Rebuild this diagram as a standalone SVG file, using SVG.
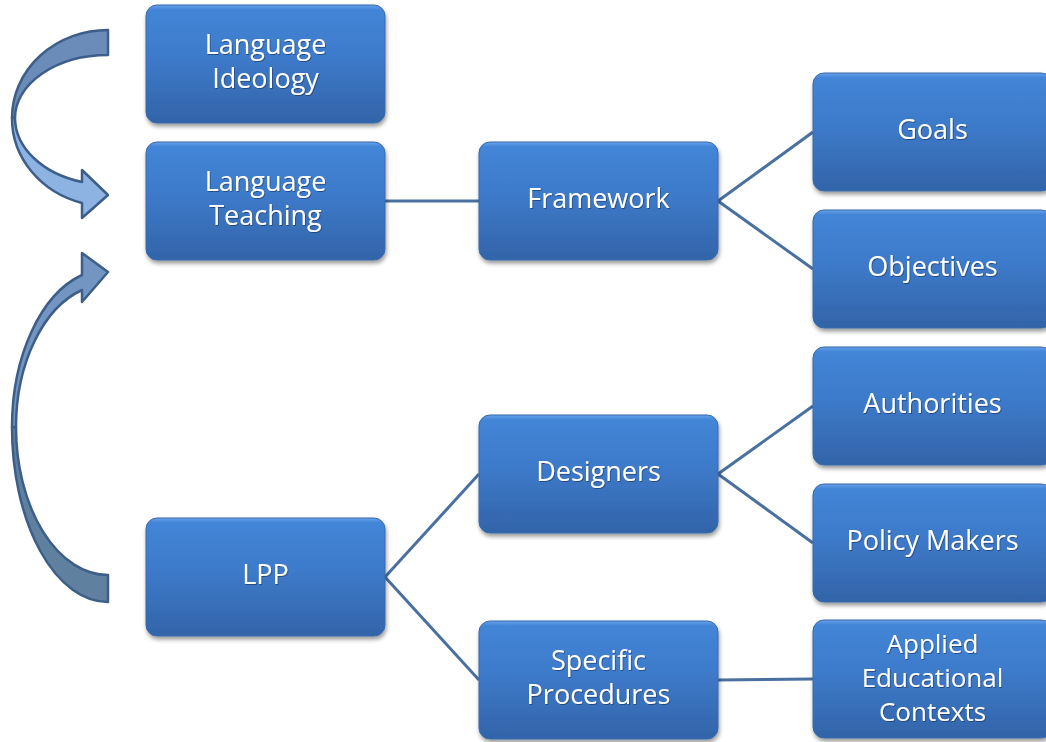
<svg xmlns="http://www.w3.org/2000/svg" width="1046" height="742" viewBox="0 0 1046 742">
  <defs>
    <linearGradient id="boxFill" x1="0" y1="0" x2="0" y2="1">
      <stop offset="0" stop-color="#66a2ec"/>
      <stop offset="0.04" stop-color="#4385d6"/>
      <stop offset="0.45" stop-color="#3d7aca"/>
      <stop offset="1" stop-color="#3264a8"/>
    </linearGradient>
    <filter id="boxShadow" x="-10%" y="-10%" width="125%" height="130%">
      <feDropShadow dx="1" dy="3" stdDeviation="2.2" flood-color="#000" flood-opacity="0.4"/>
    </filter>
    <filter id="textShadow" x="-10%" y="-20%" width="120%" height="150%">
      <feDropShadow dx="0.8" dy="1" stdDeviation="0.6" flood-color="#0a2a55" flood-opacity="0.6"/>
    </filter>
    <style>
      .box { fill: url(#boxFill); stroke: #386aa8; stroke-width: 1; filter: url(#boxShadow); }
      .label { fill: #ffffff; font-family: "Open Sans", "Liberation Sans", sans-serif; font-size: 27px; text-anchor: middle; filter: url(#textShadow); }
      .small { font-size: 26px; }
      .link { stroke: #4a70a0; stroke-width: 3; fill: none; }
      .arrow { stroke: #3c5e88; stroke-width: 2.5; stroke-linejoin: round; }
    </style>
  </defs>

  <rect width="1046" height="742" fill="#ffffff"/>

  <!-- curved arrows on the left -->
  <g id="arrow-ideology-to-teaching">
    <path class="arrow" fill="#6b8cb8" d="M108,30 A96,88 0 0 0 12,118 L15,118 A93,63 0 0 1 108,55 Z"/>
    <path class="arrow" fill="#8db3e3" d="M12,118 A96,88 0 0 0 82,203 L82,218 L108,195 L82,170 L82,182 A93,67 0 0 1 15,118 Z"/>
  </g>
  <g id="arrow-lpp-to-teaching">
    <path class="arrow" fill="#60809f" d="M108,602 A96,175 0 0 1 12,427 L16,427 A92,148 0 0 0 108,575 Z"/>
    <path class="arrow" fill="#7395c2" d="M12,427 A96,158 0 0 1 82,275 L82,253 L108,272 L82,302 L82,290 A92,143 0 0 0 16,427 Z"/>
  </g>

  <!-- connectors -->
  <g id="connectors">
    <line class="link" x1="385" y1="201" x2="479" y2="201"/>
    <line class="link" x1="718" y1="201" x2="813" y2="132"/>
    <line class="link" x1="718" y1="201" x2="813" y2="269"/>
    <line class="link" x1="385" y1="577" x2="479" y2="474"/>
    <line class="link" x1="385" y1="577" x2="479" y2="680"/>
    <line class="link" x1="718" y1="474" x2="813" y2="406"/>
    <line class="link" x1="718" y1="474" x2="813" y2="543"/>
    <line class="link" x1="718" y1="680" x2="813" y2="679"/>
  </g>

  <!-- nodes -->
  <g id="language-ideology">
    <rect class="box" x="146" y="5" width="239" height="118" rx="11"/>
    <text class="label" x="265.5" y="54">Language</text>
    <text class="label" x="265.5" y="88">Ideology</text>
  </g>
  <g id="language-teaching">
    <rect class="box" x="146" y="142" width="239" height="118" rx="11"/>
    <text class="label" x="265.5" y="191">Language</text>
    <text class="label" x="265.5" y="225">Teaching</text>
  </g>
  <g id="framework">
    <rect class="box" x="479" y="142" width="239" height="118" rx="11"/>
    <text class="label" x="598.5" y="207.5">Framework</text>
  </g>
  <g id="goals">
    <rect class="box" x="813" y="73" width="239" height="118" rx="11"/>
    <text class="label" x="932.5" y="138.5">Goals</text>
  </g>
  <g id="objectives">
    <rect class="box" x="813" y="210" width="239" height="118" rx="11"/>
    <text class="label" x="932.5" y="275.5">Objectives</text>
  </g>
  <g id="authorities">
    <rect class="box" x="813" y="347" width="239" height="118" rx="11"/>
    <text class="label" x="932.5" y="412.5">Authorities</text>
  </g>
  <g id="policy-makers">
    <rect class="box" x="813" y="484" width="239" height="118" rx="11"/>
    <text class="label" x="932.5" y="549.5">Policy Makers</text>
  </g>
  <g id="lpp">
    <rect class="box" x="146" y="518" width="239" height="118" rx="11"/>
    <text class="label" x="265.5" y="583.5">LPP</text>
  </g>
  <g id="designers">
    <rect class="box" x="479" y="415" width="239" height="118" rx="11"/>
    <text class="label" x="598.5" y="480.5">Designers</text>
  </g>
  <g id="specific-procedures">
    <rect class="box" x="479" y="621" width="239" height="118" rx="11"/>
    <text class="label" x="598.5" y="670">Specific</text>
    <text class="label" x="598.5" y="704">Procedures</text>
  </g>
  <g id="applied-educational-contexts">
    <rect class="box" x="813" y="620" width="239" height="118" rx="11"/>
    <text class="label small" x="932.5" y="653">Applied</text>
    <text class="label small" x="932.5" y="687">Educational</text>
    <text class="label small" x="932.5" y="721">Contexts</text>
  </g>
</svg>
